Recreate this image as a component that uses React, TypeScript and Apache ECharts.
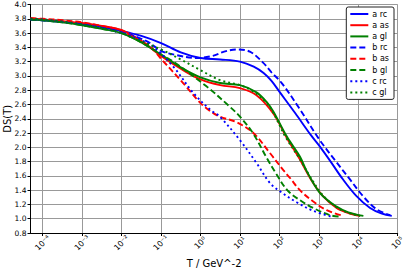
import React, { useEffect, useRef } from "react";
import * as echarts from "echarts";

// x values are log10(T / GeV^-2); y values are DS(T)
const aRcX = [-4.31, -4, -3.5, -3, -2.5, -2, -1.5, -1, -0.5, 0, 0.5, 1, 1.35, 1.6, 1.8, 2.0, 2.4, 2.8, 3.0, 3.3, 3.6, 3.95, 4.3, 4.6, 4.85];
const aRcY = [3.79, 3.78, 3.755, 3.725, 3.685, 3.63, 3.56, 3.46, 3.33, 3.25, 3.23, 3.2, 3.13, 3.04, 2.93, 2.78, 2.48, 2.17, 2.03, 1.8, 1.56, 1.32, 1.15, 1.07, 1.04];

const aAsX = [-4.31, -4, -3.5, -3, -2.5, -2, -1.5, -1, -0.5, 0, 0.5, 1.0, 1.42, 1.85, 2.2, 2.5, 2.8, 3.1, 3.45, 3.75, 4.05];
const aAsY = [3.8, 3.79, 3.765, 3.74, 3.7, 3.64, 3.49, 3.28, 3.1, 2.95, 2.87, 2.83, 2.73, 2.47, 2.12, 1.85, 1.55, 1.32, 1.15, 1.08, 1.04];

const aGlX = [-4.31, -4, -3.5, -3, -2.5, -2, -1.5, -1, -0.5, 0, 0.5, 1.0, 1.42, 1.7, 1.85, 2.19, 2.52, 2.7, 3.03, 3.45, 3.75, 4.13];
const aGlY = [3.79, 3.78, 3.75, 3.71, 3.66, 3.6, 3.47, 3.3, 3.12, 2.98, 2.9, 2.87, 2.77, 2.62, 2.5, 2.15, 1.87, 1.66, 1.36, 1.17, 1.09, 1.04];

const bRcX = [-4.31, -4, -3.5, -3, -2.5, -2, -1.5, -1.28, -1, -0.6, -0.1, 0.3, 0.6, 0.92, 1.25, 1.58, 1.8, 2.06, 2.5, 3.0, 3.45, 3.79, 4.13, 4.47, 4.81];
const bRcY = [3.79, 3.78, 3.755, 3.725, 3.68, 3.62, 3.52, 3.46, 3.35, 3.29, 3.25, 3.28, 3.34, 3.37, 3.34, 3.19, 3.05, 2.9, 2.55, 2.12, 1.79, 1.55, 1.31, 1.13, 1.05];

const bAsX = [-4.31, -4, -3.5, -3, -2.5, -2, -1.79, -1.28, -1, -0.44, 0, 0.24, 0.49, 0.92, 1.34, 1.76, 2.1, 2.27, 2.52, 2.86, 3.2, 3.62];
const bAsY = [3.81, 3.8, 3.78, 3.75, 3.7, 3.64, 3.57, 3.41, 3.24, 2.9, 2.62, 2.51, 2.43, 2.35, 2.2, 1.92, 1.68, 1.57, 1.4, 1.24, 1.12, 1.04];

const bGlX = [-4.31, -4, -3.5, -3, -2.5, -2, -1.5, -1, -0.69, 0.16, 0.72, 1.0, 1.34, 1.68, 1.93, 2.2, 2.52, 2.86, 3.28, 3.54];
const bGlY = [3.79, 3.78, 3.75, 3.71, 3.66, 3.6, 3.47, 3.3, 3.2, 2.85, 2.58, 2.43, 2.19, 1.85, 1.62, 1.4, 1.26, 1.15, 1.05, 1.03];

const cRcX = [-4.31, -4, -3.5, -3, -2.5, -2, -1.5, -1.2, -0.69, -0.18, 0.26, 0.49, 1.0, 1.42, 1.76, 2.05, 2.44, 2.86, 3.37];
const cRcY = [3.8, 3.79, 3.76, 3.72, 3.67, 3.6, 3.5, 3.41, 3.13, 2.76, 2.52, 2.43, 2.1, 1.78, 1.5, 1.37, 1.23, 1.11, 1.02];

const cGlX = [-4.31, -4, -3.5, -3, -2.5, -2, -1.79, -1, -0.5, 0, 0.5, 1.0, 1.34, 1.68, 1.85, 2.15, 2.5, 2.8, 3.1, 3.45, 3.75, 4.05];
const cGlY = [3.8, 3.79, 3.76, 3.72, 3.67, 3.6, 3.55, 3.37, 3.23, 3.08, 2.94, 2.87, 2.78, 2.62, 2.48, 2.15, 1.85, 1.57, 1.33, 1.16, 1.08, 1.04];

const seriesNames = ["a rc", "a as", "a gl", "b rc", "b as", "b gl", "c rc", "c gl"];
const seriesX = [aRcX, aAsX, aGlX, bRcX, bAsX, bGlX, cRcX, cGlX];
const seriesY = [aRcY, aAsY, aGlY, bRcY, bAsY, bGlY, cRcY, cGlY];
const seriesColors = ["#0000ff", "#ff0000", "#008000", "#0000ff", "#ff0000", "#008000", "#0000ff", "#008000"];
const seriesDash: any[] = ["solid", "solid", "solid", [6, 3], [6, 3], [6, 3], [2, 3], [2, 3]];

const xMinExp = -4.31;
const xMaxExp = 5;

const supMap: Record<string, string> = { "-": "⁻", "0": "⁰", "1": "¹", "2": "²", "3": "³", "4": "⁴", "5": "⁵", "6": "⁶", "7": "⁷", "8": "⁸", "9": "⁹" };

export default function App() {
  const ref = useRef<HTMLDivElement>(null);
  useEffect(() => {
    if (!ref.current) return;
    const chart = echarts.init(ref.current, null, { renderer: "svg" });
    const series = seriesNames.map((name, i) => ({
      name,
      type: "line",
      data: seriesX[i].map((x, j) => [x, seriesY[i][j]]),
      showSymbol: false,
      symbol: "none",
      smooth: 0.35,
      lineStyle: { color: seriesColors[i], width: 1.9, type: seriesDash[i] },
      itemStyle: { color: seriesColors[i] },
      z: 2 + i,
    }));
    chart.setOption({
      animation: false,
      textStyle: { fontFamily: "DejaVu Sans" },
      grid: { left: 30.5, right: 9.3, top: 4.5, bottom: 38, containLabel: false, outerBoundsMode: "none" },
      legend: {
        orient: "vertical",
        right: 13,
        top: 7,
        data: seriesNames,
        itemWidth: 18,
        itemHeight: 8,
        itemGap: 3.2,
        padding: [3, 5, 3, 3],
        backgroundColor: "#fff",
        borderColor: "#222",
        borderWidth: 1,
        borderRadius: 2,
        itemStyle: { opacity: 0 },
        textStyle: { fontSize: 8, color: "#000", fontFamily: "DejaVu Sans", padding: [0, 0, 0, -1] },
      },
      xAxis: {
        type: "value",
        min: xMinExp,
        max: xMaxExp,
        splitNumber: 10,
        name: "T / GeV^-2",
        nameLocation: "middle",
        nameGap: 25,
        nameMoveOverlap: false,
        nameTextStyle: { fontSize: 10, color: "#000", fontFamily: "DejaVu Sans" },
        axisLine: { show: true, onZero: false, lineStyle: { color: "#000", width: 1 } },
        axisTick: { show: true, length: 3, lineStyle: { color: "#000" } },
        axisLabel: {
          rotate: 45,
          fontSize: 8,
          color: "#000",
          margin: 10,
          align: "center",
          verticalAlign: "middle",
          showMinLabel: false,
          formatter: (v: number) => {
            if (Math.abs(v - Math.round(v)) > 1e-6) return "";
            const e = Math.round(v);
            return "10" + String(e).split("").map((c) => supMap[c] || c).join("");
          },
        },
        splitLine: { show: true, lineStyle: { color: "#999", width: 1 } },
      },
      yAxis: {
        type: "value",
        min: 0.8,
        max: 4.0,
        interval: 0.2,
        name: "DS(T)",
        nameLocation: "middle",
        nameGap: 18.5,
        nameMoveOverlap: false,
        nameTextStyle: { fontSize: 10, color: "#000", fontFamily: "DejaVu Sans" },
        axisLine: { show: true, onZero: false, lineStyle: { color: "#000", width: 1 } },
        axisTick: { show: true, length: 3, lineStyle: { color: "#000" } },
        axisLabel: { fontSize: 7.5, color: "#000", margin: 4, formatter: (v: number) => v.toFixed(1) },
        splitLine: { show: true, lineStyle: { color: "#999", width: 1 } },
      },
      series,
    });
    return () => chart.dispose();
  }, []);
  return <div ref={ref} style={{ width: 407, height: 271, position: "absolute", left: 0, top: 0 }} />;
}
